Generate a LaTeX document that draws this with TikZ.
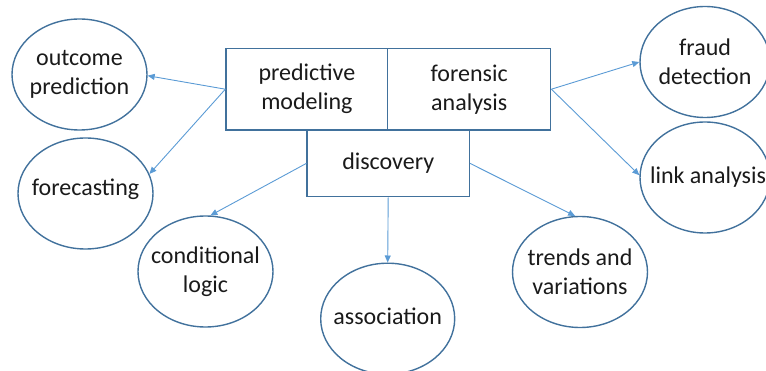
\documentclass[tikz,border=0pt]{standalone}
\usepackage{fontspec}
\setmainfont{Carlito}
\usetikzlibrary{shapes.geometric,arrows.meta}
\definecolor{shapeblue}{HTML}{41719C}
\definecolor{linkblue}{HTML}{5B9BD5}
\definecolor{txt}{HTML}{1A1A1A}
\begin{document}
\begin{tikzpicture}[x=1pt,y=-1pt,
  every node/.style={font=\fontsize{24}{29}\selectfont, text=txt, align=center},
  every label/.style={font=\fontsize{24}{29}\selectfont, text=txt, align=center, inner sep=0pt},
  ell/.style={ellipse, draw=shapeblue, line width=1.4pt, minimum width=135pt, minimum height=111pt, inner sep=0pt},
  boxnode/.style={rectangle, draw=shapeblue, line width=1.4pt, inner sep=0pt},
  conn/.style={draw=linkblue, line width=0.9pt, -{Triangle[length=7pt,width=6pt]}}]
\useasboundingbox (0,0) rectangle (766,371);
% boxes
\node[boxnode, minimum width=161.7pt, minimum height=81.7pt] (pm) at (306.9,89.2) {predictive\\modeling};
\node[boxnode, minimum width=163pt, minimum height=81.7pt] (fa) at (469.2,89.2) {forensic\\analysis};
\node[boxnode, minimum width=162.3pt, minimum height=66.7pt] (dc) at (388.2,163.4) {discovery};
% ellipses (fixed size, text as centred label)
\node[ell, label={center:outcome\\prediction}] (oc) at (79.5,74.5) {};
\node[ell, label={[yshift=4pt]center:forecasting}] (fc) at (85.5,193.5) {};
\node[ell, label={center:conditional\\logic}] (cl) at (205.5,271.5) {};
\node[ell, minimum width=134pt, label={[yshift=2pt]center:association}] (as) at (387.7,318.7) {};
\node[ell, label={center:trends and\\variations}] (tv) at (580,272) {};
\node[ell, minimum width=130pt, label={center:fraud\\detection}] (fd) at (705,62) {};
\node[ell, minimum width=130pt, label={[xshift=3pt]center:link analysis}] (la) at (705,177.5) {};
% connectors
\draw[conn] (pm.west) -- (oc.-1);
\draw[conn] (pm.west) -- (fc.17);
\draw[conn] (dc.west) -- (cl.85);
\draw[conn] (dc.south) -- (as.north);
\draw[conn] (dc.east) -- (tv.95);
\draw[conn] (fa.east) -- (fd.west);
\draw[conn] (fa.east) -- (la.178);
\end{tikzpicture}
\end{document}
